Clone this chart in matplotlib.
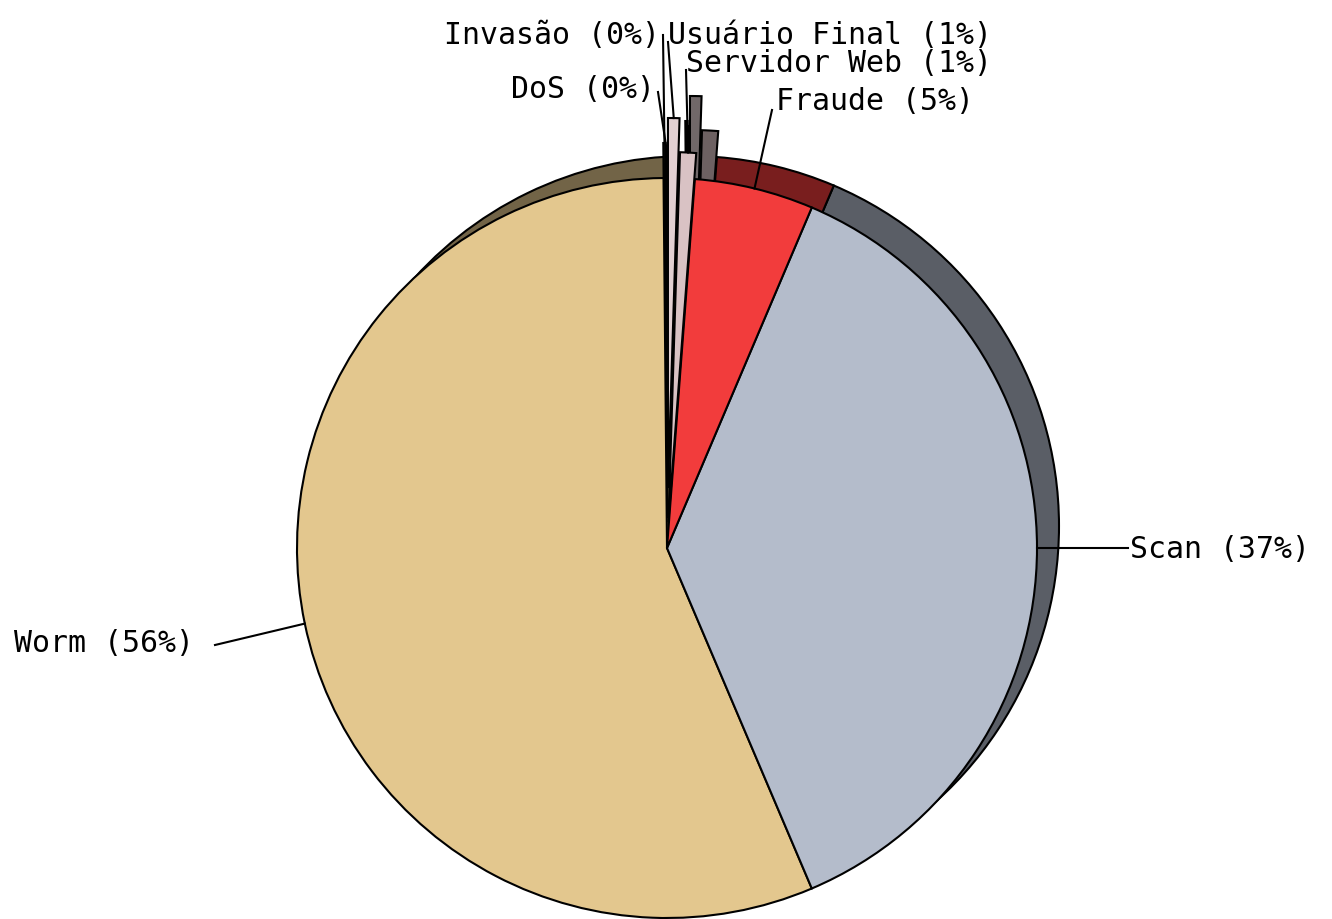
import numpy as np
import matplotlib
matplotlib.use("Agg")
import matplotlib.pyplot as plt
from matplotlib.colors import to_rgb

# Data (counter-clockwise from 12 o'clock)
categories = ["DoS", "Invasão", "Worm", "Scan", "Fraude", "Servidor Web", "Usuário Final"]
values = [0.05, 0.1, 56.25, 37.2, 5.2, 0.7, 0.5]
pct_labels = ["0%", "0%", "56%", "37%", "5%", "1%", "1%"]
colors = ["#F4F0F0", "#1A1A1A", "#E3C78E", "#B4BCCB", "#F23C3C", "#D9C2C4", "#E2D0D2"]

W, H = 1332, 919
# explosion distances in pixels (style)
explode_px = [30, 35, 0, 0, 0, 26, 60]

fig = plt.figure(figsize=(W / 100, H / 100), dpi=100)
ax = fig.add_axes([0, 0, 1, 1])

cx, cy, R = 667, H - 548, 370
off = 22

def darker(c, f=0.5):
    r, g, b = to_rgb(c)
    return (r * f, g * f, b * f)

shadow_cols = [darker(c, 0.5) for c in colors]

# shadow pie
ax.pie(values, colors=shadow_cols, explode=explode_px, startangle=90, counterclock=True,
       center=(cx + off, cy + off), radius=R,
       wedgeprops=dict(edgecolor="black", linewidth=1.5))
wedges, _ = ax.pie(values, colors=colors, explode=explode_px, startangle=90, counterclock=True,
                   center=(cx, cy), radius=R,
                   wedgeprops=dict(edgecolor="black", linewidth=1.5))

ax.set_xlim(0, W)
ax.set_ylim(0, H)
ax.set_aspect("equal")
ax.axis("off")

# label positions (image coords): text anchor x, y, ha, line start
label_pos = {
    "Invasão": (660, 35, "right", (663, 35)),
    "Usuário Final": (668, 35, "left", (668, 42)),
    "Servidor Web": (686, 63, "left", (686, 70)),
    "DoS": (655, 89, "right", (658, 92)),
    "Fraude": (776, 101, "left", (772, 110)),
    "Scan": (1130, 550, "left", (1128, 548)),
    "Worm": (14, 644, "left", (215, 645)),
}

font = dict(family="DejaVu Sans Mono", fontsize=21.5, color="black")
for w, cat, pl in zip(wedges, categories, pct_labels):
    tx, ty, ha, (lx, ly) = label_pos[cat]
    ax.text(tx, H - ty, f"{cat} ({pl})", ha=ha, va="center", **font)
    mid = np.deg2rad((w.theta1 + w.theta2) / 2)
    px = w.center[0] + w.r * np.cos(mid)
    py = w.center[1] + w.r * np.sin(mid)
    ax.plot([lx, px], [H - ly, py], color="black", lw=1.5, zorder=5)

fig.savefig("out.png", dpi=100)
